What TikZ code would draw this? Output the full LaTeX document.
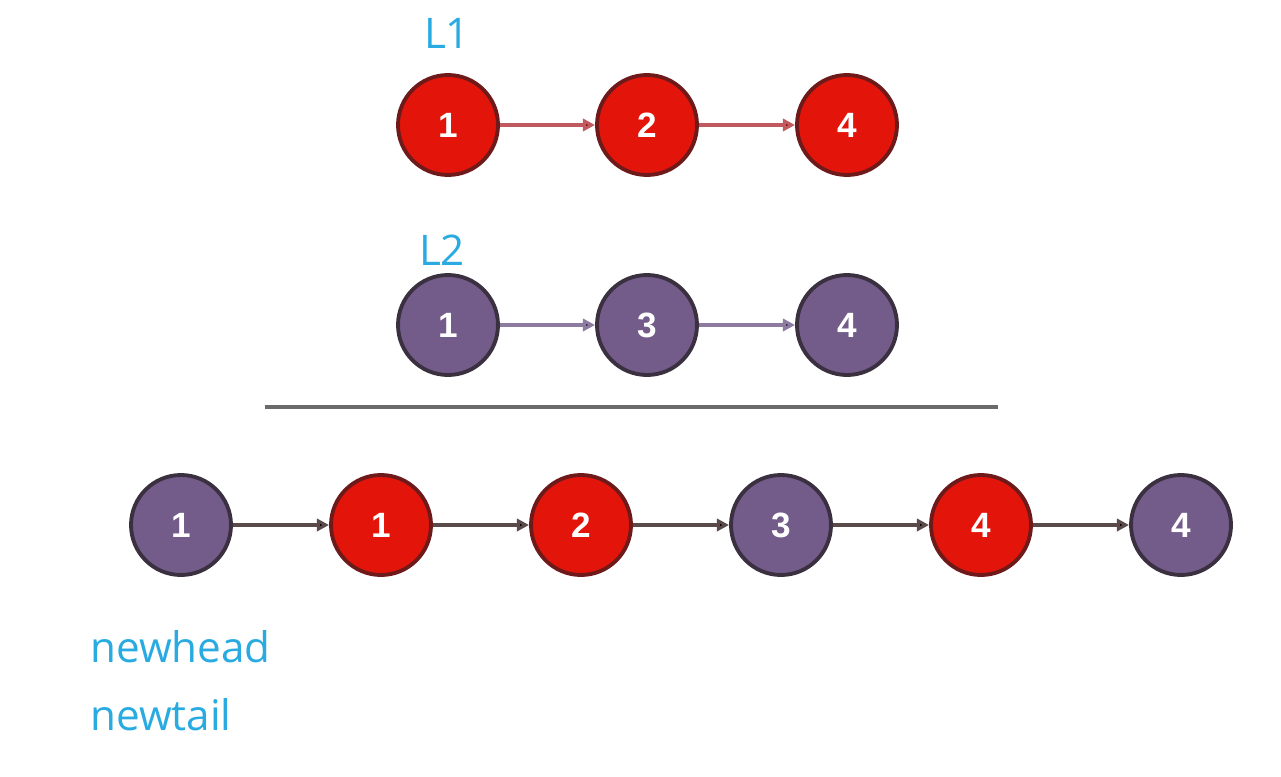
\documentclass[tikz,border=0pt]{standalone}
\usepackage{fontspec}
\setmainfont{Liberation Sans}
\newfontfamily\labelfont{Open Sans}
\usetikzlibrary{arrows.meta}
\definecolor{nred}{HTML}{E3150A}
\definecolor{nredborder}{HTML}{6E1A1A}
\definecolor{npurple}{HTML}{735C8A}
\definecolor{npurpleborder}{HTML}{3A3040}
\definecolor{lblue}{HTML}{29ABE2}
\definecolor{redline}{HTML}{C05A5E}
\definecolor{purpline}{HTML}{8C7AA0}
\definecolor{darkline}{HTML}{5A4A4A}
\definecolor{rulegrey}{HTML}{6A6A6A}
\tikzset{
  px/.style={x=0.02cm,y=-0.02cm},
  lnode/.style={circle, minimum size=2cm, inner sep=0pt, line width=2.2pt,
    text=white, font=\fontsize{20}{20}\selectfont\bfseries},
  rednode/.style={lnode, fill=nred, draw=nredborder},
  purpnode/.style={lnode, fill=npurple, draw=npurpleborder},
  link/.style={line width=2pt},
  redlink/.style={link, draw=redline, -{Triangle[length=7pt,width=7pt,fill=nredborder!80!red]}},
  purplink/.style={link, draw=purpline, -{Triangle[length=7pt,width=7pt,fill=npurpleborder]}},
  darklink/.style={link, draw=darkline, -{Triangle[length=7pt,width=7pt,fill=black]}},
  lbl/.style={text=lblue, font=\labelfont\fontsize{24}{24}\selectfont, inner sep=0pt},
}
\begin{document}
\begin{tikzpicture}[px]
\useasboundingbox (0,0) rectangle (1281,777);
% top row L1
\node[lbl] (L1) at (447,33) {L1};
\node[rednode] (a1) at (448,125) {1};
\node[rednode] (a2) at (647,125) {2};
\node[rednode] (a4) at (847,125) {4};
\draw[redlink] (a1) -- (a2);
\draw[redlink] (a2) -- (a4);
% middle row L2
\node[lbl] (L2) at (442,250) {L2};
\node[purpnode] (b1) at (448,325) {1};
\node[purpnode] (b3) at (647,325) {3};
\node[purpnode] (b4) at (847,325) {4};
\draw[purplink] (b1) -- (b3);
\draw[purplink] (b3) -- (b4);
% separator
\coordinate (s1) at (265,407);
\coordinate (s2) at (998,407);
\draw[rulegrey, line width=2pt] (s1) -- (s2);
% bottom row merged
\node[purpnode] (c1) at (181,525) {1};
\node[rednode] (c2) at (381,525) {1};
\node[rednode] (c3) at (581,525) {2};
\node[purpnode] (c4) at (781,525) {3};
\node[rednode] (c5) at (981,525) {4};
\node[purpnode] (c6) at (1181,525) {4};
\draw[darklink] (c1) -- (c2);
\draw[darklink] (c2) -- (c3);
\draw[darklink] (c3) -- (c4);
\draw[darklink] (c4) -- (c5);
\draw[darklink] (c5) -- (c6);
% labels
\node[lbl, anchor=base west] (nh) at (90,662) {newhead};
\node[lbl, anchor=base west] (nt) at (90,730) {newtail};
\end{tikzpicture}
\end{document}
